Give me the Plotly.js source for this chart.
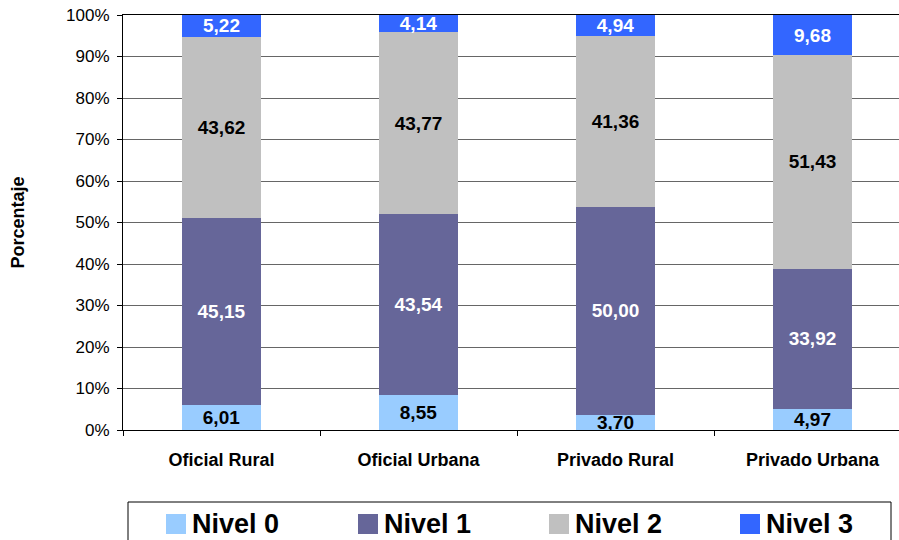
<!DOCTYPE html>
<html>
<head>
<meta charset="utf-8">
<script src="https://cdn.plot.ly/plotly-3.0.1.min.js"></script>
<style>
  html, body { margin: 0; padding: 0; overflow: hidden; background: #fff; }
  #chart { width: 911px; height: 540px; }
</style>
</head>
<body>
<div id="chart"></div>
<script>
// School type / zone groups
const categories = ['Oficial Rural', 'Oficial Urbana', 'Privado Rural', 'Privado Urbana'];

// Percentage of students per performance level
const nivel0 = [6.01, 8.55, 3.70, 4.97];
const nivel1 = [45.15, 43.54, 50.00, 33.92];
const nivel2 = [43.62, 43.77, 41.36, 51.43];
const nivel3 = [5.22, 4.14, 4.94, 9.68];

const seriesNames = ['Nivel 0', 'Nivel 1', 'Nivel 2', 'Nivel 3'];
const seriesValues = [nivel0, nivel1, nivel2, nivel3];
const seriesColors = ['#99CCFF', '#666699', '#C0C0C0', '#3366FF'];
const labelColors = ['#000000', '#FFFFFF', '#000000', '#FFFFFF'];

const yTicks = [0, 10, 20, 30, 40, 50, 60, 70, 80, 90, 100];
const yTickLabels = ['0%', '10%', '20%', '30%', '40%', '50%', '60%', '70%', '80%', '90%', '100%'];

const FONT = 'Arial, "Liberation Sans", sans-serif';

const traces = seriesNames.map((name, i) => ({
  type: 'bar',
  name: name,
  x: categories,
  y: seriesValues[i],
  marker: { color: seriesColors[i], line: { width: 0 } },
  texttemplate: '%{y:.2f}',
  textposition: 'inside',
  insidetextanchor: 'middle',
  textangle: 0,
  constraintext: 'none',
  textfont: { family: FONT, size: 19, color: labelColors[i], weight: 'bold' },
  hoverinfo: 'x+y+name',
  showlegend: false
}));

// Plot area geometry (pixels) used to place the bottom key
const W = 911, H = 540;
const M = { l: 123, r: 0, t: 15, b: 110 };
const PW = W - M.l - M.r, PH = H - M.t - M.b;
const px = x => (x - M.l) / PW;
const py = y => (H - M.b - y) / PH;

const swatchLeft = [166, 358, 549, 740];
const shapes = [
  { type: 'rect', xref: 'paper', yref: 'paper',
    x0: px(128), x1: px(891), y0: py(548), y1: py(502),
    line: { color: '#000', width: 1 }, fillcolor: 'rgba(0,0,0,0)' }
];
const annotations = [
  { xref: 'paper', yref: 'paper', x: px(17), y: 0.5, text: '<b>Porcentaje</b>',
    textangle: -90, showarrow: false, xanchor: 'center', yanchor: 'middle',
    font: { family: FONT, size: 18, color: '#000' } }
];
seriesNames.forEach((name, i) => {
  shapes.push({ type: 'rect', xref: 'paper', yref: 'paper',
    x0: px(swatchLeft[i]), x1: px(swatchLeft[i] + 20), y0: py(534), y1: py(514),
    line: { width: 0 }, fillcolor: seriesColors[i] });
  annotations.push({ xref: 'paper', yref: 'paper', x: px(swatchLeft[i] + 24), y: py(524),
    text: '<b>' + name + '</b>', showarrow: false, xanchor: 'left', yanchor: 'middle',
    font: { family: FONT, size: 27, color: '#000' } });
});

const layout = {
  width: W, height: H,
  margin: M,
  paper_bgcolor: '#fff', plot_bgcolor: '#fff',
  barmode: 'stack',
  bargap: 0.604,
  separators: ',.',
  uniformtext: { mode: 'show', minsize: 19 },
  font: { family: FONT, color: '#000' },
  showlegend: false,
  xaxis: {
    type: 'category',
    showline: true, linecolor: '#000', linewidth: 1, mirror: true,
    ticks: 'outside', tickson: 'boundaries', ticklen: 5, tickcolor: '#000',
    ticklabelstandoff: 13,
    tickfont: { family: FONT, size: 18, color: '#000', weight: 'bold' },
    showgrid: false, fixedrange: true
  },
  yaxis: {
    range: [0, 100],
    tickmode: 'array',
    tickvals: yTicks,
    ticktext: yTickLabels,
    showline: true, linecolor: '#000', linewidth: 1,
    ticks: 'outside', ticklen: 5, tickcolor: '#000',
    ticklabelstandoff: 4,
    tickfont: { family: FONT, size: 17, color: '#000' },
    showgrid: true, gridcolor: '#666', gridwidth: 1,
    zeroline: false, fixedrange: true
  },
  shapes: shapes,
  annotations: annotations
};

Plotly.newPlot('chart', traces, layout, { displayModeBar: false, staticPlot: true });
</script>
</body>
</html>
